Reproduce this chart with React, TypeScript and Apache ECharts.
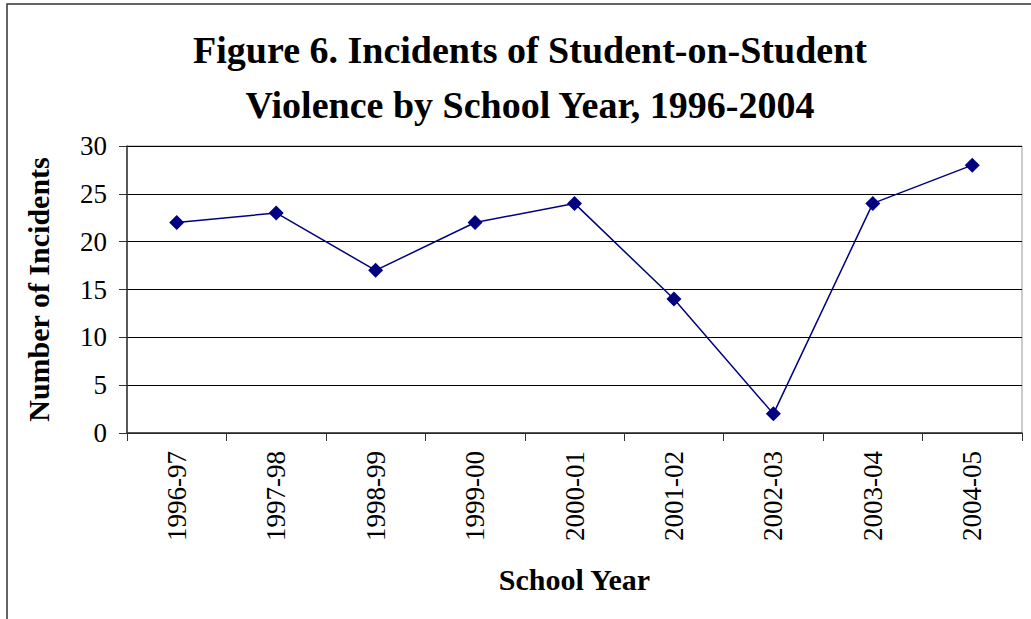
import React, { useEffect, useRef } from "react";
import * as echarts from "echarts";

const categories = ["1996-97", "1997-98", "1998-99", "1999-00", "2000-01", "2001-02", "2002-03", "2003-04", "2004-05"];
const incidents = [22, 23, 17, 22, 24, 14, 2, 24, 28];
const yTicks = { min: 0, max: 30, interval: 5 };

export default function App() {
  const ref = useRef<HTMLDivElement>(null);
  useEffect(() => {
    document.body.style.margin = "0";
    const chart = echarts.init(ref.current!, null, { renderer: "svg" });
    const font = "'Liberation Serif', 'Times New Roman', serif";
    chart.setOption({
      animation: false,
      backgroundColor: "#fff",
      title: {
        text: "Figure 6. Incidents of Student-on-Student\nViolence by School Year, 1996-2004",
        left: 525,
        textAlign: "center",
        top: 17,
        textStyle: { fontFamily: font, fontSize: 38, fontWeight: "bold", color: "#000", lineHeight: 55 },
      },
      graphic: [
        {
          type: "rect",
          shape: { x: 7, y: 4, width: 1040, height: 640 },
          style: { fill: "none", stroke: "#333", lineWidth: 1.5 },
          silent: true,
        },
      ],
      grid: { left: 127, right: 9, top: 146, bottom: 186, show: true, borderColor: "#999", borderWidth: 1 },
      xAxis: {
        type: "category",
        data: categories,
        boundaryGap: true,
        name: "School Year",
        nameLocation: "middle",
        nameGap: 131,
        nameTextStyle: { fontFamily: font, fontSize: 30, fontWeight: "bold", color: "#000" },
        axisLine: { lineStyle: { color: "#333", width: 1.5 } },
        axisTick: { show: true, length: 8, lineStyle: { color: "#333" }, alignWithLabel: false },
        axisLabel: { rotate: 90, fontFamily: font, fontSize: 27, color: "#000", margin: 18 },
      },
      yAxis: {
        type: "value",
        min: yTicks.min,
        max: yTicks.max,
        interval: yTicks.interval,
        name: "Number of Incidents",
        nameLocation: "middle",
        nameGap: 74,
        nameTextStyle: { fontFamily: font, fontSize: 30, fontWeight: "bold", color: "#000" },
        axisLine: { show: true, lineStyle: { color: "#333", width: 1.5 } },
        axisTick: { show: true, length: 8, lineStyle: { color: "#333" } },
        axisLabel: { fontFamily: font, fontSize: 27, color: "#000", margin: 20 },
        splitLine: { show: true, lineStyle: { color: "#000", width: 1 } },
      },
      series: [
        {
          type: "line",
          data: incidents,
          symbol: "diamond",
          symbolSize: 15,
          lineStyle: { color: "#000080", width: 1.5 },
          itemStyle: { color: "#000080" },
        },
      ],
    });
    return () => chart.dispose();
  }, []);
  return <div ref={ref} style={{ width: 1031, height: 619 }} />;
}
